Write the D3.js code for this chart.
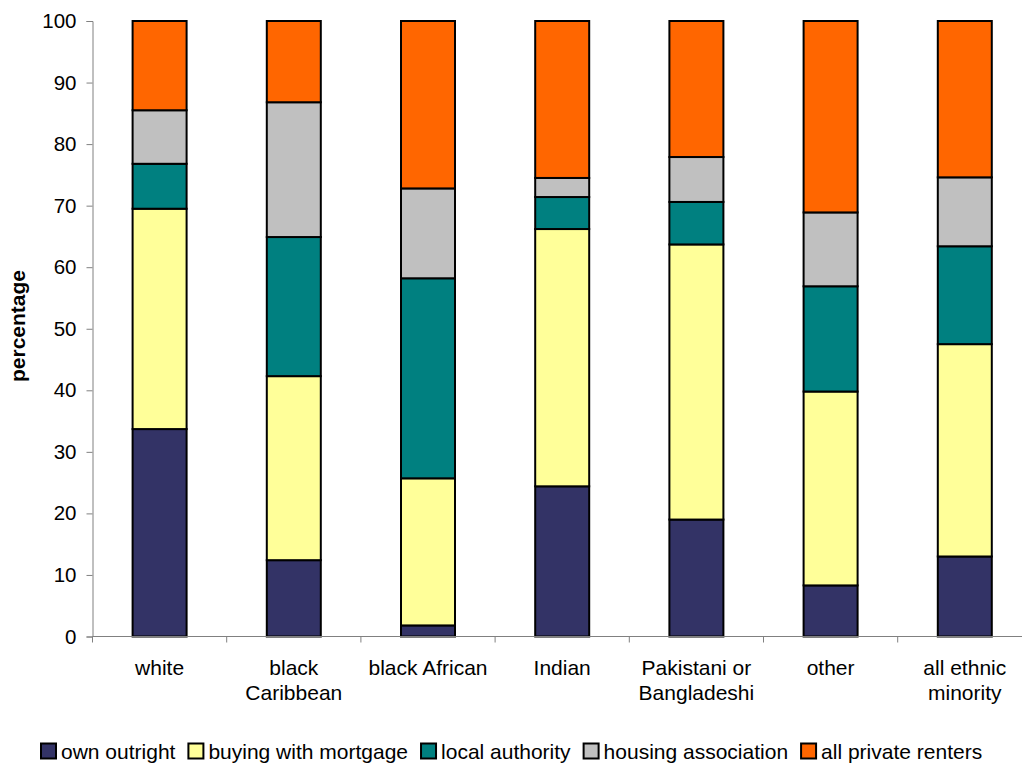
<!DOCTYPE html>
<html><head><meta charset="utf-8">
<script src="https://cdn.jsdelivr.net/npm/d3@7"></script>
<style>body{margin:0;background:#fff}svg{display:block;font-family:"Liberation Sans",Arial,sans-serif}</style>
</head><body><svg id="c" width="1022" height="766"></svg>
<script>
const categories = [["white"],["black","Caribbean"],["black African"],["Indian"],["Pakistani or","Bangladeshi"],["other"],["all ethnic","minority"]];
const seriesNames = ["own outright","buying with mortgage","local authority","housing association","all private renters"];
const ownOutright = [33.7,12.4,1.8,24.4,19.0,8.3,13.0];
const buyingWithMortgage = [35.8,29.9,23.9,41.8,44.7,31.5,34.5];
const localAuthority = [7.3,22.6,32.5,5.2,6.9,17.1,15.9];
const housingAssociation = [8.7,21.9,14.6,3.1,7.3,12.0,11.2];
const privateRenters = [14.5,13.2,27.2,25.5,22.1,31.1,25.4];
const yTicks = [0,10,20,30,40,50,60,70,80,90,100];
const colors = ["#333366","#FFFF99","#008080","#C0C0C0","#FF6600"];

const seriesVals = [ownOutright,buyingWithMortgage,localAuthority,housingAssociation,privateRenters];
const data = categories.map((c,i)=>{const o={key:i};seriesNames.forEach((s,j)=>o[s]=seriesVals[j][i]);return o;});
const stack = d3.stack().keys(seriesNames)(data);

const svg = d3.select("#c");
const x0 = 92.5, bandW = 134.2;
const x = d3.scaleBand().domain(d3.range(categories.length)).range([x0, x0+bandW*categories.length]).paddingInner(0).paddingOuter(0);
const y = d3.scaleLinear().domain([0,100]).range([636.5,21]);

const barW = 54;
stack.forEach((layer,j)=>{
  svg.append("g").selectAll("rect").data(layer).join("rect")
    .attr("x",(d,i)=>x(i)+x.bandwidth()/2-barW/2)
    .attr("width",barW)
    .attr("y",d=>y(d[1]))
    .attr("height",d=>y(d[0])-y(d[1]))
    .attr("fill",colors[j]).attr("stroke","#000").attr("stroke-width",2);
});

// y axis
const ya = svg.append("g").attr("transform",`translate(${x0},0)`).call(d3.axisLeft(y).tickValues(yTicks).tickSize(6).tickPadding(10));
ya.select(".domain").attr("stroke","#808080");
ya.selectAll(".tick line").attr("stroke","#808080");
ya.selectAll("text").attr("font-size",20.5).attr("fill","#000").attr("font-family","Liberation Sans, Arial, sans-serif");

// x axis
const xa = svg.append("g").attr("transform",`translate(0,${y(0)})`);
xa.append("line").attr("x1",x0).attr("x2",x0+bandW*categories.length).attr("y1",0).attr("y2",0).attr("stroke","#808080");
d3.range(categories.length+1).forEach(i=>{
  xa.append("line").attr("x1",x0+i*bandW).attr("x2",x0+i*bandW).attr("y1",0).attr("y2",6).attr("stroke","#808080");
});
categories.forEach((c,i)=>{
  const t = xa.append("text").attr("text-anchor","middle").attr("font-size",21).attr("fill","#000");
  c.forEach((line,k)=>t.append("tspan").attr("x",x(i)+x.bandwidth()/2).attr("y",38.5+k*25).text(line));
});

// y label
svg.append("text").attr("transform","translate(25,326) rotate(-90)").attr("text-anchor","middle")
  .attr("font-size",21).attr("font-weight","bold").text("percentage");

// legend
const lg = svg.append("g").attr("transform","translate(41,751)");
let lx = 0;
seriesNames.forEach((s,j)=>{
  lg.append("rect").attr("x",lx).attr("y",-7.5).attr("width",15).attr("height",15).attr("fill",colors[j]).attr("stroke","#000").attr("stroke-width",2);
  const t = lg.append("text").attr("x",lx+20).attr("y",8).attr("font-size",21).attr("fill","#000").text(s);
  lx += 20 + t.node().getComputedTextLength() + 13;
});
</script></body></html>
